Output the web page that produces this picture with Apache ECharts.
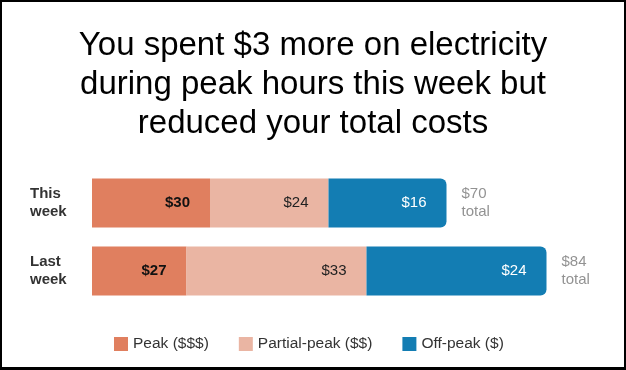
<!DOCTYPE html>
<html><head><meta charset="utf-8">
<script src="https://cdn.jsdelivr.net/npm/echarts@6/dist/echarts.min.js"></script>
<style>
html,body{margin:0;padding:0;background:#fff;}
#wrap{position:relative;width:626px;height:370px;}
#chart{position:absolute;left:0;top:0;width:626px;height:370px;}
#frame{position:absolute;left:0;top:0;width:626px;height:370px;box-sizing:border-box;border:2px solid #000;border-bottom-width:3px;pointer-events:none;}
</style></head>
<body><div id="wrap"><div id="chart"></div><div id="frame"></div></div>
<script>
// Categories (top to bottom)
const categories = ['This\nweek', 'Last\nweek'];
// Dollar amounts shown in the chart
const peakCost = [30, 27];
const partialCost = [24, 33];
const offPeakCost = [16, 24];
const totalCost = [70, 84];
// Segment lengths as drawn in the picture (the picture's bars are not to scale), in axis units
const peakLen = [23.6, 18.9];
const partialLen = [23.7, 36.0];
const offPeakLen = [23.6, 36.0];
const seriesNames = ['Peak ($$$)', 'Partial-peak ($$)', 'Off-peak ($)'];
const titleText = 'You spent $3 more on electricity\nduring peak hours this week but\nreduced your total costs';

const FONT = '"Liberation Sans", Arial, sans-serif';
const colors = ['#E07F5F', '#EAB5A3', '#137DB3'];
const totalsPos = peakLen.map((v, i) => [v + partialLen[i] + offPeakLen[i], i]);

const chart = echarts.init(document.getElementById('chart'), null, {renderer: 'canvas'});
const labelBase = {show: true, position: 'insideRight', distance: 20, fontFamily: FONT, fontSize: 15};
chart.setOption({
  animation: false,
  color: colors,
  textStyle: {fontFamily: FONT},
  title: {
    text: titleText, left: 'center', top: 21,
    textStyle: {fontFamily: FONT, fontSize: 33, fontWeight: 'normal', color: '#000', lineHeight: 39}
  },
  legend: {
    data: seriesNames, top: 331, left: 109, icon: 'rect', itemWidth: 14, itemHeight: 14, itemGap: 30,
    textStyle: {fontFamily: FONT, fontSize: 15.5, color: '#333'}
  },
  grid: {left: 92, width: 500, top: 169, height: 136},
  xAxis: {type: 'value', min: 0, max: 100, show: false},
  yAxis: {
    type: 'category', data: categories, inverse: true,
    axisLine: {show: false}, axisTick: {show: false},
    axisLabel: {align: 'left', margin: 62, fontFamily: FONT, fontSize: 15, fontWeight: 'bold', color: '#333', lineHeight: 18, padding: [3, 0, 0, 0]}
  },
  series: [
    {name: seriesNames[0], type: 'bar', stack: 'c', barWidth: 49, data: peakLen,
     label: Object.assign({}, labelBase, {fontWeight: 'bold', color: '#111', formatter: p => '$' + peakCost[p.dataIndex]})},
    {name: seriesNames[1], type: 'bar', stack: 'c', barWidth: 49, data: partialLen,
     label: Object.assign({}, labelBase, {color: '#222', formatter: p => '$' + partialCost[p.dataIndex]})},
    {name: seriesNames[2], type: 'bar', stack: 'c', barWidth: 49, data: offPeakLen,
     itemStyle: {borderRadius: [0, 6, 6, 0]},
     label: Object.assign({}, labelBase, {color: '#fff', formatter: p => '$' + offPeakCost[p.dataIndex]})},
    {type: 'scatter', data: totalsPos, symbolSize: 2, itemStyle: {color: 'rgba(0,0,0,0)'}, silent: true,
     label: {show: true, position: 'right', distance: 14, fontFamily: FONT, fontSize: 15, color: '#777', lineHeight: 18, align: 'left', padding: [3, 0, 0, 0],
       formatter: p => '$' + totalCost[p.dataIndex] + '\ntotal'}}
  ]
});
</script></body></html>
